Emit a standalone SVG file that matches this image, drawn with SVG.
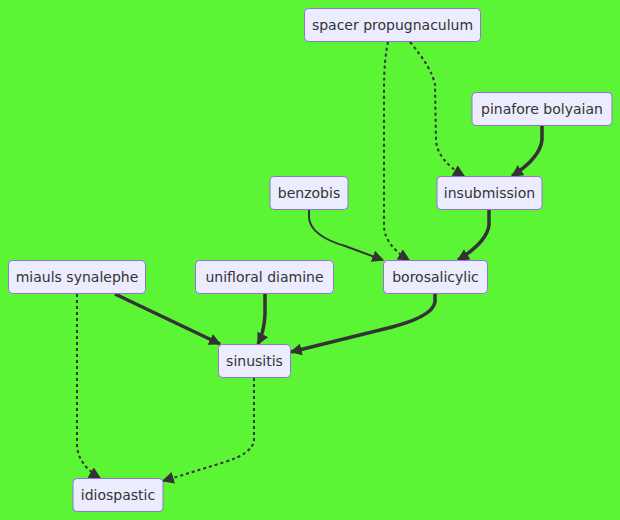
<svg xmlns="http://www.w3.org/2000/svg" width="620" height="520" viewBox="0 0 620 520">
<style>
.node rect{fill:#ECECFF;stroke:#9370DB;stroke-width:1}
.node text{font-family:"DejaVu Sans",Verdana,sans-serif;font-size:14px;fill:#333;text-anchor:middle;dominant-baseline:central}
.e{fill:none;stroke:#333}
.normal{stroke-width:2}
.thick{stroke-width:3.5}
.dotted{stroke-width:2;stroke-dasharray:3 3}
</style>
<defs>
<marker id="arr" viewBox="0 0 10 10" refX="9" refY="5" markerUnits="userSpaceOnUse" markerWidth="12" markerHeight="12" orient="auto">
<path d="M0,0 L10,5 L0,10 z" fill="#333"/>
</marker>
</defs>
<rect width="620" height="520" fill="#5cf536"/>
<g id="edges">
<path class="e dotted" d="M410,42 Q432,68 435,85 L436,140 Q437,160 464,176" marker-end="url(#arr)"/>
<path class="e dotted" d="M388,42 Q384,60 384,90 L384,225 Q384,245 409,260" marker-end="url(#arr)"/>
<path class="e thick" d="M542,126 L542,140 Q540,158 512,176" marker-end="url(#arr)"/>
<path class="e normal" d="M309,210 L309,218 Q311,236 345,246 L383,260" marker-end="url(#arr)"/>
<path class="e thick" d="M489,210 L489,225 Q487,242 458,260" marker-end="url(#arr)"/>
<path class="e thick" d="M435,294 L435,302 Q433,318 380,330 L291,352" marker-end="url(#arr)"/>
<path class="e thick" d="M115,294 L220,344" marker-end="url(#arr)"/>
<path class="e thick" d="M265,294 L265,315 Q264,332 258,344" marker-end="url(#arr)"/>
<path class="e dotted" d="M77,294 L77,445 Q78,465 100,478" marker-end="url(#arr)"/>
<path class="e dotted" d="M254,378 L254,440 Q253,453 225,462 L163,481" marker-end="url(#arr)"/>
</g>
<g id="spacer_propugnaculum" class="node"><rect x="304.5" y="8.5" width="176" height="33" rx="4"/><text x="392.5" y="25">spacer propugnaculum</text></g>
<g id="pinafore_bolyaian" class="node"><rect x="472" y="92.5" width="140" height="33" rx="4"/><text x="542" y="109">pinafore bolyaian</text></g>
<g id="insubmission" class="node"><rect x="437" y="176.5" width="105" height="33" rx="4"/><text x="489.5" y="193">insubmission</text></g>
<g id="benzobis" class="node"><rect x="270" y="176.5" width="78" height="33" rx="4"/><text x="309" y="193">benzobis</text></g>
<g id="borosalicylic" class="node"><rect x="383.5" y="260.5" width="104" height="33" rx="4"/><text x="435.5" y="277">borosalicylic</text></g>
<g id="miauls_synalephe" class="node"><rect x="8.5" y="260.5" width="137" height="33" rx="4"/><text x="77" y="277">miauls synalephe</text></g>
<g id="unifloral_diamine" class="node"><rect x="195.5" y="260.5" width="138" height="33" rx="4"/><text x="264.5" y="277">unifloral diamine</text></g>
<g id="sinusitis" class="node"><rect x="218.5" y="344.5" width="72" height="33" rx="4"/><text x="254.5" y="361">sinusitis</text></g>
<g id="idiospastic" class="node"><rect x="73" y="478.5" width="90" height="33" rx="4"/><text x="118" y="495">idiospastic</text></g>
</svg>
